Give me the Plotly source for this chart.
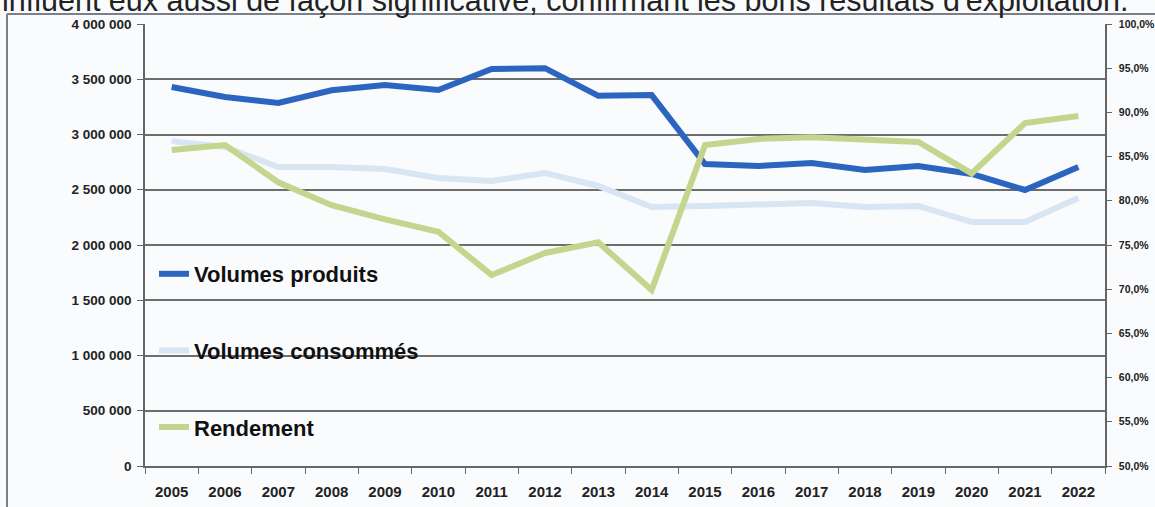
import plotly.graph_objects as go

years = [str(y) for y in range(2005, 2023)]
volumes_produits = [3430000, 3340000, 3285000, 3400000, 3448000, 3403000, 3593000, 3600000, 3350000,
                    3357000, 2733000, 2715000, 2742000, 2679000, 2715000, 2643000, 2498000, 2706000]
volumes_consommes = [2940000, 2887000, 2706000, 2706000, 2688000, 2606000, 2579000, 2652000, 2534000,
                     2344000, 2353000, 2362000, 2380000, 2344000, 2353000, 2208000, 2208000, 2425000]
rendement = [0.8575, 0.863, 0.821, 0.795, 0.779, 0.765, 0.716, 0.741, 0.753,
             0.699, 0.863, 0.870, 0.872, 0.870, 0.8665, 0.831, 0.888, 0.896]

left_ticks = [0, 500000, 1000000, 1500000, 2000000, 2500000, 3000000, 3500000, 4000000]
right_ticks = [0.50, 0.55, 0.60, 0.65, 0.70, 0.75, 0.80, 0.85, 0.90, 0.95, 1.00]
header_text = "influent eux aussi de façon significative, confirmant les bons résultats d'exploitation."

W, H = 1155, 507
L, R, T, B = 145, 1105, 24, 466

def px_x(p):
    return (p - L) / (R - L)

def px_y(p):
    return (B - p) / (B - T)

FONT = "Liberation Sans, Arial, sans-serif"

fig = go.Figure()
fig.add_trace(go.Scatter(x=years, y=volumes_produits, name="Volumes produits", mode="lines",
                         line=dict(color="#2b65c0", width=6), legendgroup="a"))
fig.add_trace(go.Scatter(x=years, y=volumes_consommes, name="Volumes consommés", mode="lines",
                         line=dict(color="#d8e5f3", width=6), legendgroup="b"))
fig.add_trace(go.Scatter(x=years, y=rendement, name="Rendement", mode="lines", yaxis="y2",
                         line=dict(color="#c4d68e", width=6), legendgroup="c"))

fig.update_layout(
    width=W, height=H,
    margin=dict(l=L, r=W - R, t=T, b=H - B, pad=0, autoexpand=False),
    paper_bgcolor="#fafbfd",
    plot_bgcolor="#fafbfd",
    separators=", ",
    showlegend=True,
    legend=dict(
        x=px_x(154), y=px_y(253), xanchor="left", yanchor="top",
        bgcolor="rgba(0,0,0,0)", borderwidth=0,
        font=dict(family=FONT, size=22, color="#111111", weight="bold"),
        tracegroupgap=45, itemwidth=30,
    ),
    xaxis=dict(
        type="category", tickson="boundaries", ticks="outside", ticklen=6, tickcolor="#666666",
        showline=True, linecolor="#666666", linewidth=1.5, showgrid=False, automargin=False,
        tickfont=dict(family=FONT, size=15, color="#222222", weight="bold"),
        ticklabelstandoff=11, range=[-0.5, 17.5],
    ),
    yaxis=dict(
        range=[0, 4000000], tickvals=left_ticks, tickformat=",d", ticks="outside", ticklen=6,
        tickcolor="#666666", showline=True, linecolor="#666666", linewidth=1.5,
        showgrid=True, gridcolor="#6e6e6e", gridwidth=1.5, zeroline=False, automargin=False,
        tickfont=dict(family=FONT, size=13.5, color="#222222", weight="bold"),
        ticklabelstandoff=3,
    ),
    yaxis2=dict(
        range=[0.5, 1.0], tickvals=right_ticks, tickformat=".1%", overlaying="y", side="right",
        ticks="outside", ticklen=5, tickcolor="#666666", showline=True, linecolor="#666666",
        linewidth=1.5, showgrid=False, zeroline=False, automargin=False,
        tickfont=dict(family=FONT, size=10.5, color="#222222", weight="bold"),
        ticklabelstandoff=5,
    ),
    shapes=[
        dict(type="line", xref="paper", yref="paper", x0=px_x(7), x1=px_x(1160), y0=px_y(14), y1=px_y(14),
             line=dict(color="#7a7f8a", width=2)),
        dict(type="line", xref="paper", yref="paper", x0=px_x(7), x1=px_x(7), y0=px_y(14), y1=px_y(515),
             line=dict(color="#7a7f8a", width=2)),
    ],
    annotations=[
        dict(text=header_text, xref="paper", yref="paper", x=px_x(0), y=px_y(1),
             xanchor="left", yanchor="middle", showarrow=False,
             font=dict(family=FONT, size=30.5, color="#222222")),
    ],
)

fig.write_html("out.html", config={"displayModeBar": False},
               post_script="document.body.style.margin='0';document.body.style.overflow='hidden';")
